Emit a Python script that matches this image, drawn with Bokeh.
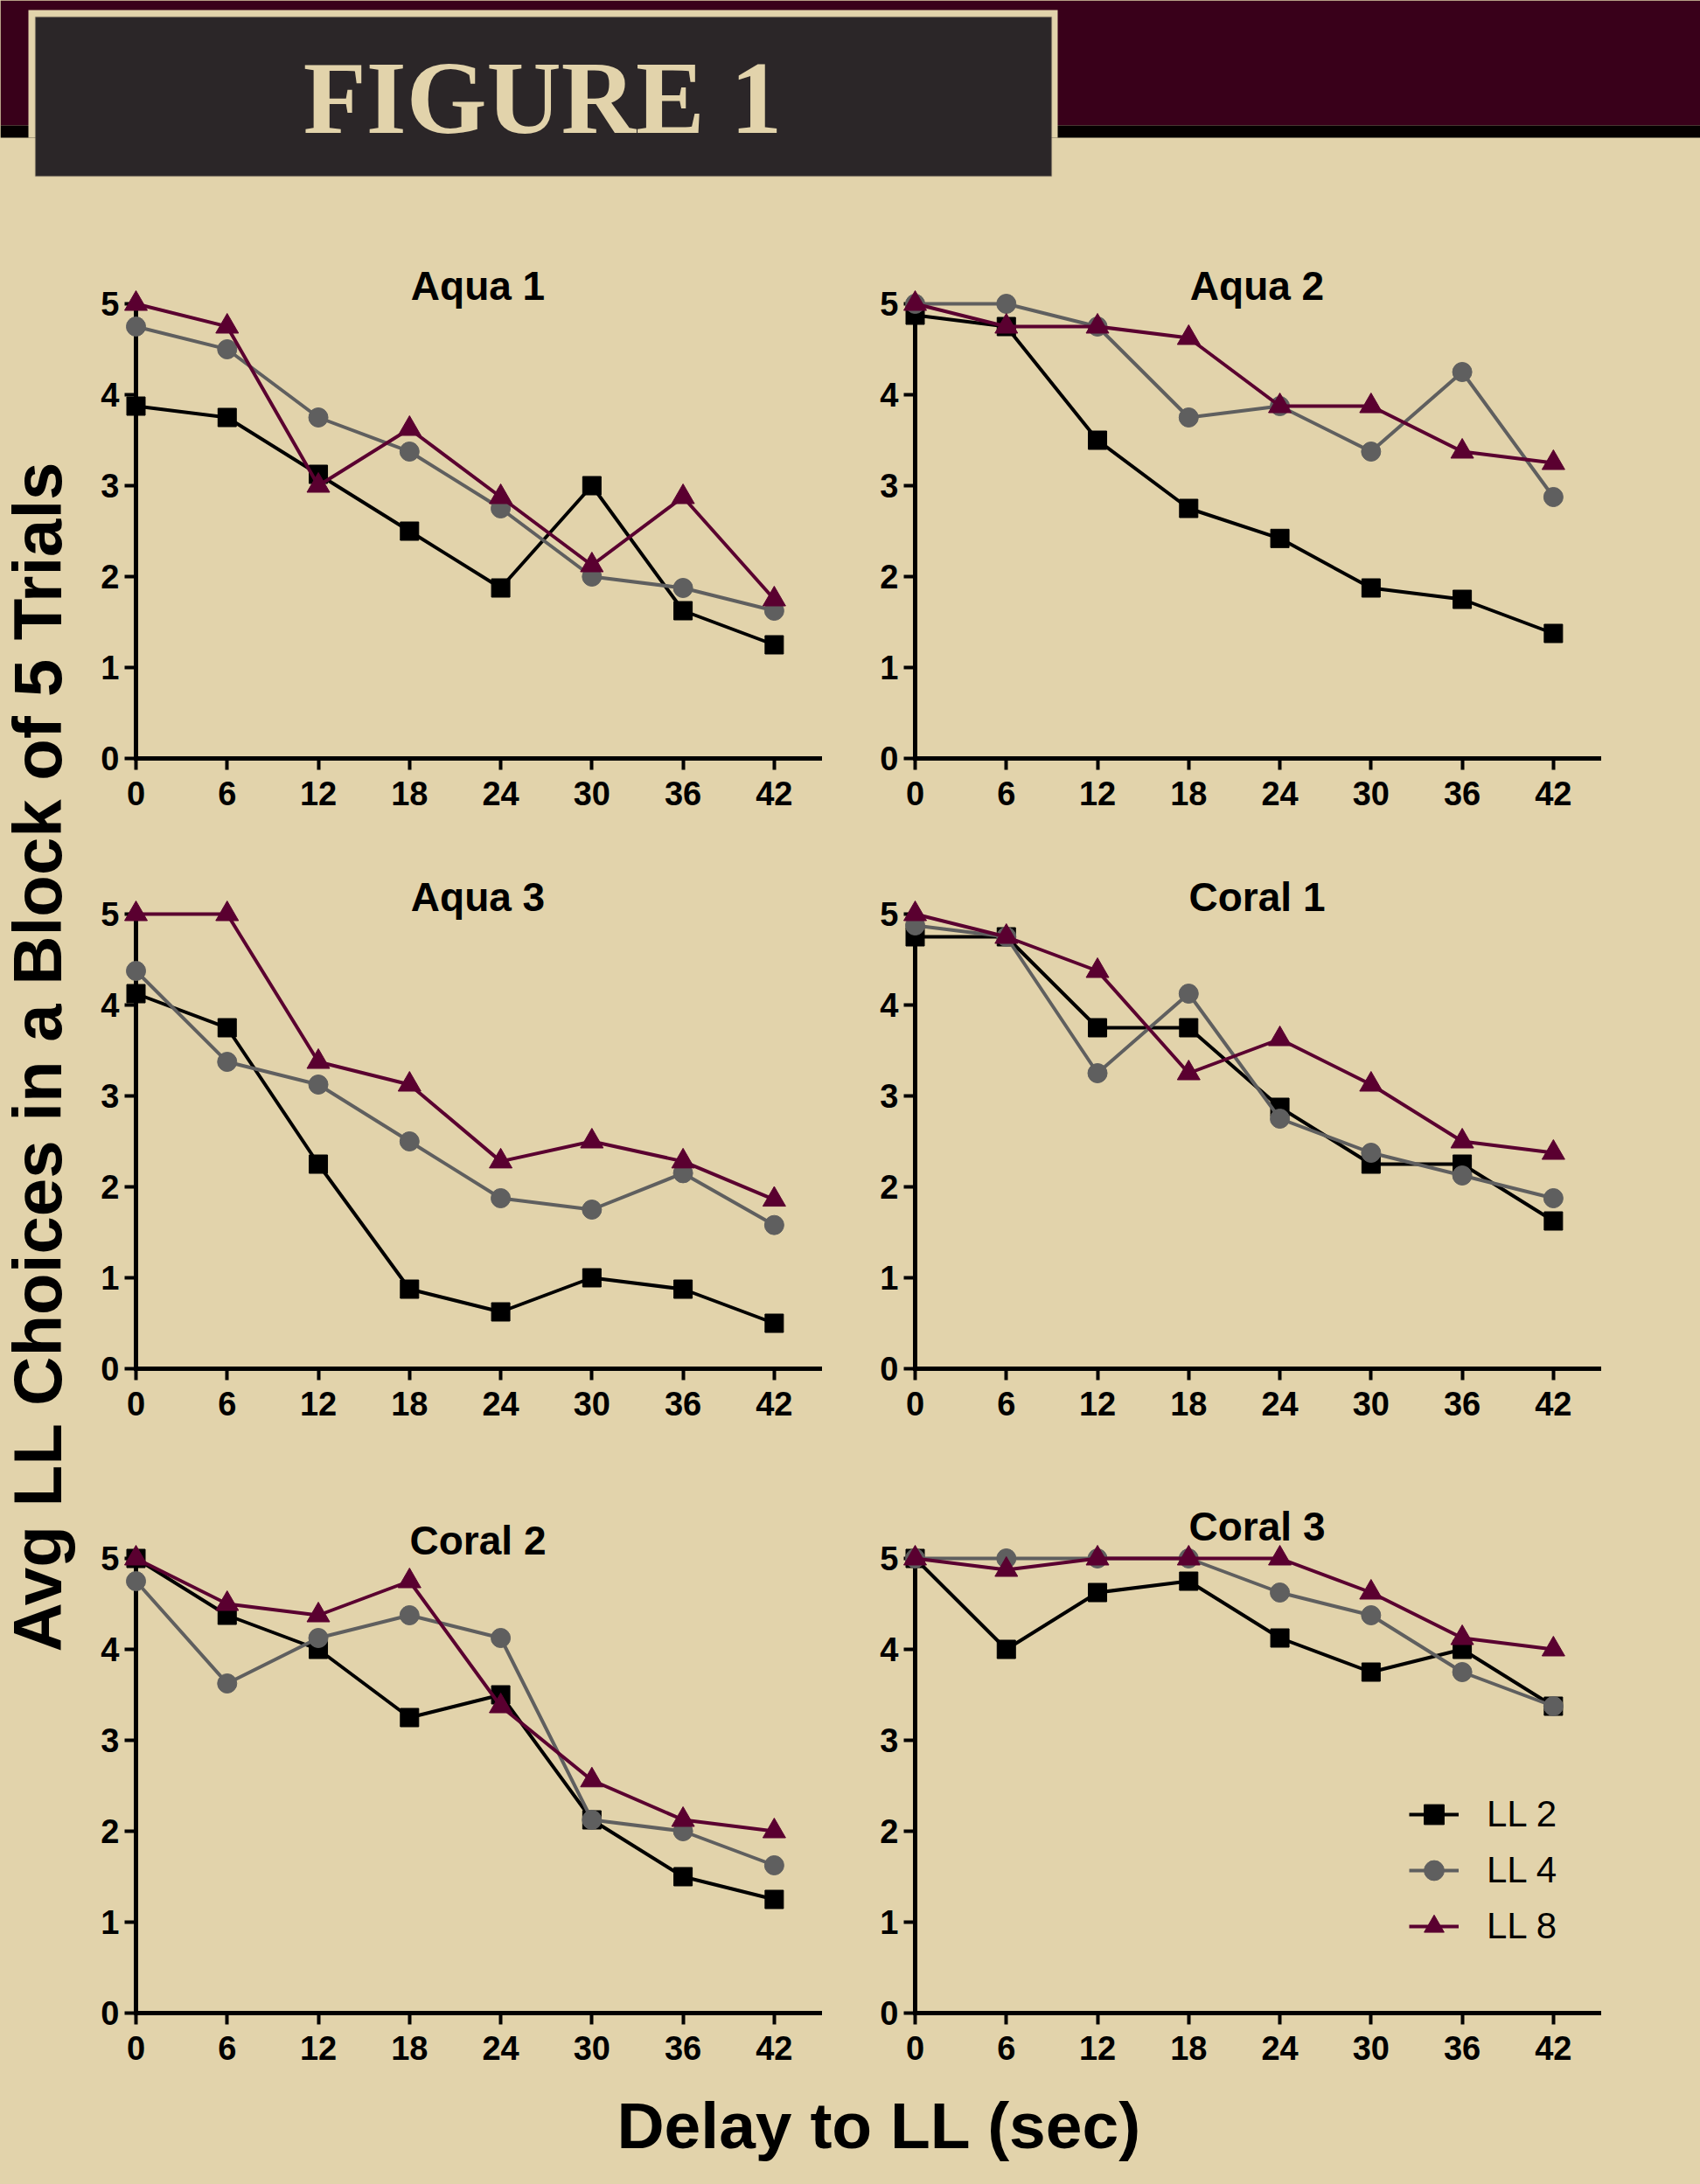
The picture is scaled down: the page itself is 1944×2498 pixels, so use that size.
import math
from bokeh.plotting import figure
from bokeh.layouts import column, row
from bokeh.models import Range1d, FixedTicker, Label, Legend, LegendItem, BoxAnnotation
from bokeh.embed import file_html
from bokeh.resources import INLINE

# ---------------- data ----------------
delays = [0, 6, 12, 18, 24, 30, 36, 42]
y_ticks = [0, 1, 2, 3, 4, 5]
panel_titles = ["Aqua 1", "Aqua 2", "Aqua 3", "Coral 1", "Coral 2", "Coral 3"]
series_labels = ["LL 2", "LL 4", "LL 8"]

aqua1_ll2 = [3.875, 3.75, 3.125, 2.5, 1.875, 3.0, 1.625, 1.25]
aqua1_ll4 = [4.75, 4.5, 3.75, 3.375, 2.75, 2.0, 1.875, 1.625]
aqua1_ll8 = [5.0, 4.75, 3.0, 3.625, 2.875, 2.125, 2.875, 1.75]

aqua2_ll2 = [4.875, 4.75, 3.5, 2.75, 2.42, 1.875, 1.75, 1.375]
aqua2_ll4 = [5.0, 5.0, 4.75, 3.75, 3.875, 3.375, 4.25, 2.875]
aqua2_ll8 = [5.0, 4.75, 4.75, 4.625, 3.875, 3.875, 3.375, 3.25]

aqua3_ll2 = [4.125, 3.75, 2.25, 0.875, 0.625, 1.0, 0.875, 0.5]
aqua3_ll4 = [4.375, 3.375, 3.125, 2.5, 1.875, 1.75, 2.15, 1.58]
aqua3_ll8 = [5.0, 5.0, 3.375, 3.125, 2.28, 2.5, 2.28, 1.86]

coral1_ll2 = [4.75, 4.75, 3.75, 3.75, 2.875, 2.25, 2.25, 1.625]
coral1_ll4 = [4.875, 4.75, 3.25, 4.125, 2.75, 2.375, 2.125, 1.875]
coral1_ll8 = [5.0, 4.75, 4.375, 3.25, 3.625, 3.125, 2.5, 2.375]

coral2_ll2 = [5.0, 4.375, 4.0, 3.25, 3.5, 2.125, 1.5, 1.25]
coral2_ll4 = [4.75, 3.625, 4.125, 4.375, 4.125, 2.125, 2.0, 1.625]
coral2_ll8 = [5.0, 4.5, 4.375, 4.75, 3.375, 2.56, 2.125, 2.0]

coral3_ll2 = [5.0, 4.0, 4.625, 4.75, 4.125, 3.75, 4.0, 3.375]
coral3_ll4 = [5.0, 5.0, 5.0, 5.0, 4.625, 4.375, 3.75, 3.375]
coral3_ll8 = [5.0, 4.875, 5.0, 5.0, 5.0, 4.625, 4.125, 4.0]

# ---------------- style ----------------
BG = "#e2d3ab"
MAROON_BAND = "#39001a"
DARK_BOX = "#2b2628"
COL_LL2 = "#000000"
COL_LL4 = "#5f5f5f"
COL_LL8 = "#5a0030"
SANS = "Liberation Sans"
K = 0.36          # baseline correction factor (fraction of font size)
PX_PER_UNIT = 104  # vertical pixels per y unit in the panels
EXTRA_TOP = 64     # frame room above y=5 for the panel titles
Y_TOP = 5 + EXTRA_TOP / PX_PER_UNIT


def base_fig(w, h, xr, yr, **kw):
    p = figure(width=w, height=h, x_range=Range1d(*xr), y_range=Range1d(*yr),
               output_backend="svg", toolbar_location=None,
               background_fill_color=BG, border_fill_color=BG,
               outline_line_color=None, **kw)
    return p


def make_panel(title, s2, s4, s8, w, h, bl, br, bt, bb, title_off, with_legend=False):
    p = base_fig(w, h, (0, 45), (0, Y_TOP),
                 min_border_left=bl, min_border_right=br,
                 min_border_top=bt, min_border_bottom=bb)
    p.grid.visible = False
    p.xaxis.ticker = FixedTicker(ticks=delays)
    p.yaxis.ticker = FixedTicker(ticks=y_ticks)
    p.yaxis.bounds = (0, 5)
    for ax in (p.xaxis[0], p.yaxis[0]):
        ax.axis_line_width = 5
        ax.axis_line_color = "black"
        ax.axis_line_cap = "square"
        ax.major_tick_line_width = 4
        ax.major_tick_line_color = "black"
        ax.major_tick_out = 13
        ax.major_tick_in = 0
        ax.minor_tick_out = 0
        ax.minor_tick_in = 0
        ax.major_label_text_font = SANS
        ax.major_label_text_font_style = "bold"
        ax.major_label_text_font_size = "38px"
        ax.major_label_text_color = "black"
    p.xaxis.major_label_standoff = 13
    p.yaxis.major_label_standoff = 6

    rends = []
    specs = [(s2, "square", 21, COL_LL2), (s4, "circle", 22, COL_LL4), (s8, "triangle", 26, COL_LL8)]
    for vals, mk, sz, col in specs:
        lr = p.line(delays, vals, line_color=col, line_width=4, level="overlay")
        sr = p.scatter(delays, vals, marker=mk, size=sz, fill_color=col, line_color=col,
                       level="overlay")
        rends.append((lr, sr))

    p.add_layout(Label(x=22.5, y=5, y_offset=title_off + K * 46, text=title,
                       text_align="center", level="overlay",
                       text_baseline="alphabetic", text_font=SANS, text_font_style="bold",
                       text_font_size="46px", text_color="black"))

    if with_legend:
        items = [LegendItem(label=lab, renderers=[lr, sr]) for lab, (lr, sr) in zip(series_labels, rends)]
        leg = Legend(items=items, location=(565, 67), glyph_width=57, glyph_height=64,
                     label_standoff=32, label_text_font=SANS, label_text_font_size="42px",
                     label_text_baseline="middle", label_text_color="black",
                     padding=0, spacing=0, margin=0,
                     border_line_color=None, background_fill_alpha=0)
        p.add_layout(leg)
    return p


# ---------------- header ----------------
HEADER_H = 250
header = base_fig(1944, HEADER_H, (0, 1944), (0, HEADER_H),
                  x_axis_type=None, y_axis_type=None, min_border=0)
header.grid.visible = False


def hbox(left, right, top, bottom, color, **kw):
    # top/bottom given as distance from top of header
    return BoxAnnotation(left=left, right=right, top=HEADER_H - top, bottom=HEADER_H - bottom,
                         fill_color=color, fill_alpha=1.0, line_color=None, **kw)


header.add_layout(hbox(0, 1944, 0, 143, MAROON_BAND))
header.add_layout(hbox(0, 1944, 143, 157, "#050000"))
header.add_layout(hbox(32, 1209, 11, 157, BG))
header.add_layout(BoxAnnotation(left=40, right=1202, top=HEADER_H - 19, bottom=HEADER_H - 201,
                                fill_color=DARK_BOX, fill_alpha=1.0, line_color="#6e6558",
                                line_width=1.5))
FIG_FS = 118
header.add_layout(Label(x=620, y=HEADER_H - 154 + K * FIG_FS, text="FIGURE 1", text_align="center",
                        text_baseline="alphabetic", text_font="Liberation Serif", level="overlay",
                        text_font_style="bold", text_font_size=f"{FIG_FS}px", text_color=BG))

# ---------------- panels ----------------
STRIP_W = 90
C1 = dict(w=972 - STRIP_W, bl=155 - STRIP_W, br=35)
C2 = dict(w=972, bl=74, br=116)
R1 = dict(h=710, bt=33, bb=93)
R2 = dict(h=720, bt=21, bb=115)
R3 = dict(h=700, bt=38, bb=78)

p1 = make_panel(panel_titles[0], aqua1_ll2, aqua1_ll4, aqua1_ll8, title_off=4, **C1, **R1)
p2 = make_panel(panel_titles[1], aqua2_ll2, aqua2_ll4, aqua2_ll8, title_off=4, **C2, **R1)
p3 = make_panel(panel_titles[2], aqua3_ll2, aqua3_ll4, aqua3_ll8, title_off=3, **C1, **R2)
p4 = make_panel(panel_titles[3], coral1_ll2, coral1_ll4, coral1_ll8, title_off=3, **C2, **R2)
p5 = make_panel(panel_titles[4], coral2_ll2, coral2_ll4, coral2_ll8, title_off=4, **C1, **R3)
p6 = make_panel(panel_titles[5], coral3_ll2, coral3_ll4, coral3_ll8, title_off=20,
                with_legend=True, **C2, **R3)

# ---------------- y label strip ----------------
STRIP_H = 2380 - HEADER_H
YL_FS = 78
ystrip = base_fig(STRIP_W, STRIP_H, (0, STRIP_W), (0, STRIP_H), x_axis_type=None,
                  y_axis_type=None, min_border=0)
ystrip.grid.visible = False
ystrip.add_layout(Label(x=71 - K * YL_FS, y=STRIP_H - (1197 - HEADER_H),
                        text="Avg  LL Choices in a Block of 5 Trials", level="overlay",
                        angle=math.pi / 2, text_align="center", text_baseline="alphabetic",
                        text_font=SANS, text_font_style="bold", text_font_size=f"{YL_FS}px",
                        text_color="black"))

# ---------------- footer ----------------
FOOT_H = 118
XL_FS = 75
footer = base_fig(1944, FOOT_H, (0, 1944), (0, FOOT_H), x_axis_type=None, y_axis_type=None,
                  min_border=0)
footer.grid.visible = False
footer.add_layout(Label(x=1005, y=FOOT_H - 77 + K * XL_FS, text="Delay to LL (sec)",
                        text_align="center", level="overlay",
                        text_baseline="alphabetic", text_font=SANS, text_font_style="bold",
                        text_font_size=f"{XL_FS}px", text_color="black"))

layout = column(header,
                row(ystrip, column(p1, p3, p5, spacing=0), column(p2, p4, p6, spacing=0), spacing=0),
                footer, spacing=0)

html = file_html(layout, INLINE, "Figure 1")
style = f"<style>html, body {{ margin: 0; padding: 0; background: {BG}; }}</style>"
html = html.replace("</head>", style + "</head>", 1)
open("out.html", "w").write(html)
